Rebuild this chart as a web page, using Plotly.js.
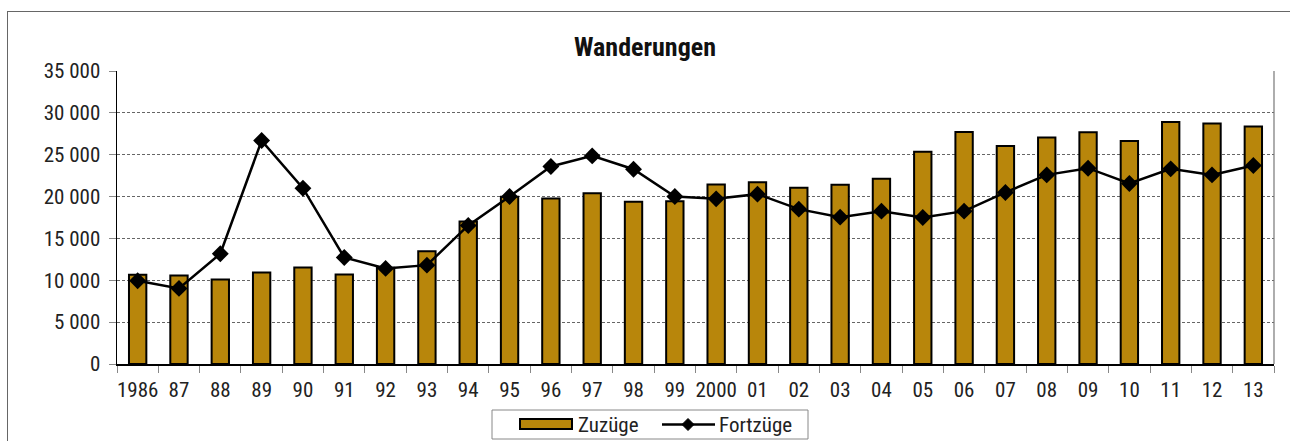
<!DOCTYPE html>
<html>
<head>
<meta charset="utf-8">
<script src="https://cdn.plot.ly/plotly-3.0.1.min.js"></script>
<style>
  html, body { margin: 0; padding: 0; background: #fff; }
  #wrap { position: relative; width: 1290px; height: 441px; overflow: hidden; }
  #frame { position: absolute; left: 7px; top: 11px; width: 1400px; height: 600px; border: 1px solid #666; box-sizing: border-box; pointer-events: none; }
  #chart { position: absolute; left: 0; top: 0; width: 1290px; height: 441px; }
</style>
</head>
<body>
<div id="wrap">
  <div id="frame"></div>
  <div id="chart"></div>
</div>
<script>
const years = ["1986","87","88","89","90","91","92","93","94","95","96","97","98","99","2000","01","02","03","04","05","06","07","08","09","10","11","12","13"];
const zuzuege = [10650,10580,10100,10940,11530,10700,11500,13480,17020,19970,19770,20400,19370,19450,21440,21720,21040,21400,22120,25340,27720,26050,27050,27680,26650,28920,28720,28360];
const fortzuege = [9940,9030,13170,26690,21000,12730,11420,11810,16550,20000,23590,24860,23270,20000,19730,20290,18500,17540,18260,17500,18260,20490,22590,23390,21560,23310,22590,23710];
const seriesNames = ["Zuzüge", "Fortzüge"];

const fontFam = '"Roboto Condensed", "Liberation Sans", sans-serif';
const W = 1290, H = 441, ML = 117, MR = 16, MT = 71, MB = 77;
const PW = W - ML - MR, PH = H - MT - MB;
const px = x => (x - ML) / PW;
const py = y => (H - MB - y) / PH;

const gold = '#B8860B';

const traces = [
  {
    type: 'bar', name: seriesNames[0], x: years, y: zuzuege,
    marker: { color: gold, line: { color: '#000', width: 2 } },
    width: 0.42
  },
  {
    type: 'scatter', mode: 'lines+markers', name: seriesNames[1], x: years, y: fortzuege,
    line: { color: '#000', width: 2.5 },
    marker: { symbol: 'diamond', size: 13, color: '#000' }
  }
];

// custom legend (box, swatches) in paper coordinates
const lgShapes = [
  { type: 'rect', xref: 'paper', yref: 'paper', x0: px(492), x1: px(808), y0: py(410), y1: py(439), line: { color: '#888', width: 1 }, fillcolor: '#fff', layer: 'above' },
  { type: 'rect', xref: 'paper', yref: 'paper', x0: px(520), x1: px(572), y0: py(419), y1: py(429), line: { color: '#000', width: 2 }, fillcolor: gold, layer: 'above' },
  { type: 'line', xref: 'paper', yref: 'paper', x0: px(662), x1: px(715), y0: py(424.5), y1: py(424.5), line: { color: '#000', width: 2.5 }, layer: 'above' },
  { type: 'path', xref: 'paper', yref: 'paper', path: `M ${px(688)} ${py(418.5)} L ${px(694)} ${py(424.5)} L ${px(688)} ${py(430.5)} L ${px(682)} ${py(424.5)} Z`, line: { color: '#000', width: 1 }, fillcolor: '#000', layer: 'above' }
];

const layout = {
  width: W, height: H,
  margin: { l: ML, r: MR, t: MT, b: MB },
  paper_bgcolor: 'rgba(0,0,0,0)', plot_bgcolor: 'rgba(0,0,0,0)',
  font: { family: fontFam, size: 21, color: '#222' },
  separators: ', ',
  title: { text: '<b>Wanderungen</b>', x: 0.5, xref: 'container', xanchor: 'center', y: 0.893, yanchor: 'middle', font: { family: fontFam, size: 26, color: '#111' } },
  showlegend: false,
  xaxis: {
    type: 'category', range: [-0.5, 27.5], tickson: 'boundaries', ticks: 'outside', ticklen: 7, tickcolor: '#888', tickwidth: 1,
    showline: true, linecolor: '#000', linewidth: 1.5, showgrid: false, tickangle: 0,
    ticklabelstandoff: 6,
    tickfont: { family: fontFam, size: 21, color: '#222' }
  },
  yaxis: {
    range: [0, 35000], dtick: 5000, tickformat: ',d',
    ticks: 'outside', ticklen: 7, tickcolor: '#888',
    showline: true, linecolor: '#000', linewidth: 1.5,
    showgrid: true, gridcolor: '#666', gridwidth: 1, griddash: '3px,2px',
    zeroline: false, ticklabelstandoff: 4,
    tickfont: { family: fontFam, size: 21, color: '#222' }
  },
  shapes: [
    { type: 'line', xref: 'paper', yref: 'paper', x0: 1, x1: 1, y0: 0, y1: 1, line: { color: '#777', width: 1.2 } }
  ].concat(lgShapes),
  annotations: [
    { xref: 'paper', yref: 'paper', x: px(576), y: py(425), xanchor: 'left', yanchor: 'middle', text: seriesNames[0], showarrow: false, font: { family: fontFam, size: 21, color: '#222' } },
    { xref: 'paper', yref: 'paper', x: px(717), y: py(425), xanchor: 'left', yanchor: 'middle', text: seriesNames[1], showarrow: false, font: { family: fontFam, size: 21, color: '#222' } }
  ]
};

Plotly.newPlot('chart', traces, layout, { displayModeBar: false, staticPlot: true });
</script>
</body>
</html>
